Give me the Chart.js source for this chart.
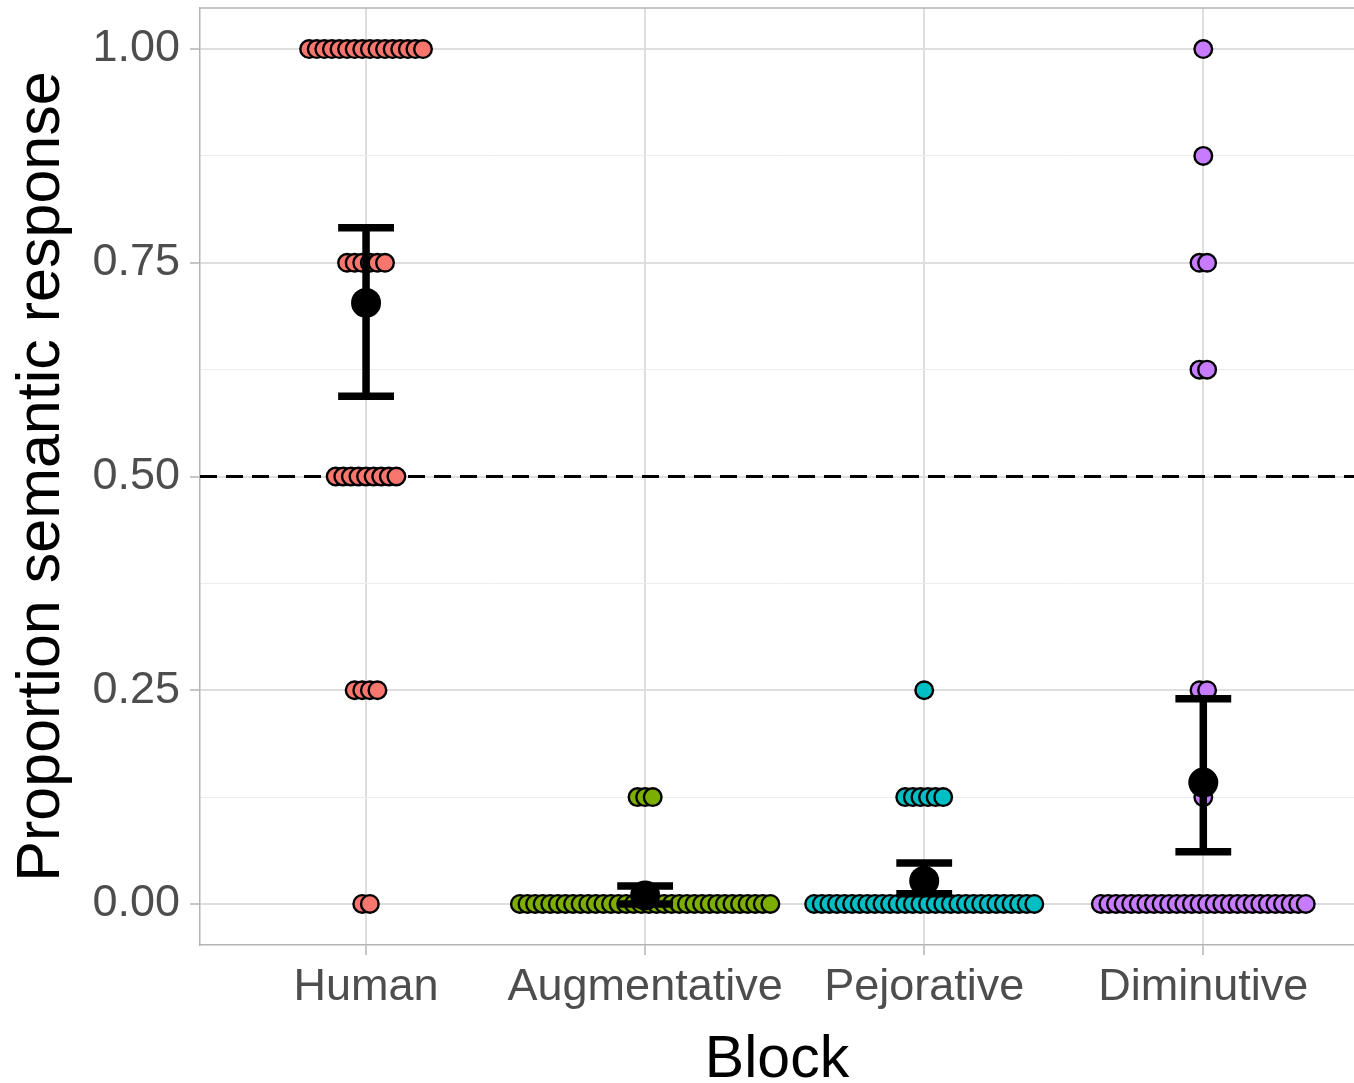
<!DOCTYPE html>
<html>
<head>
<meta charset="utf-8">
<script src="https://cdn.jsdelivr.net/npm/chart.js@4/dist/chart.umd.min.js"></script>
<style>
  html, body { margin: 0; padding: 0; background: #fff; }
  #wrap { width: 1354px; height: 1083px; }
</style>
</head>
<body>
<div id="wrap"><canvas id="chart"></canvas></div>
<script>
// categories and response levels (proportions out of 8 trials)
const blocks = ['Human', 'Augmentative', 'Pejorative', 'Diminutive'];
const levels = [0, 0.125, 0.25, 0.375, 0.5, 0.625, 0.75, 0.875, 1];

// number of participants at each level, per block
const humanCounts        = [2, 0, 4, 0, 9, 0, 6, 0, 16];
const augmentativeCounts = [34, 3, 0, 0, 0, 0, 0, 0, 0];
const pejorativeCounts   = [30, 6, 1, 0, 0, 0, 0, 0, 0];
const diminutiveCounts   = [28, 1, 2, 0, 0, 2, 2, 1, 1];

// mean and interval per block
const means  = [0.703, 0.010, 0.027, 0.142];
const ciLow  = [0.594, 0.000, 0.012, 0.061];
const ciHigh = [0.791, 0.021, 0.048, 0.240];

const yTicks = [0, 0.125, 0.25, 0.375, 0.5, 0.625, 0.75, 0.875, 1];
const chanceLevel = 0.5;

const colors = ['#F8766D', '#7CAE00', '#00BFC4', '#C77CFF'];
const allCounts = [humanCounts, augmentativeCounts, pejorativeCounts, diminutiveCounts];

// spread dots sharing a value side by side (centred dotplot)
const DOT_STEP = 0.0272;
function swarm(blockIdx, counts) {
  const pts = [];
  counts.forEach((n, li) => {
    for (let i = 0; i < n; i++) {
      pts.push({ x: blockIdx + (i - (n - 1) / 2) * DOT_STEP, y: levels[li] });
    }
  });
  return pts;
}

const FONT = '"Liberation Sans", Arial, sans-serif';

// chance line, panel top border, error bars and means
const extras = {
  id: 'extras',
  beforeDatasetsDraw(chart) {
    const { ctx, chartArea, scales } = chart;
    const y = scales.y.getPixelForValue(chanceLevel);
    ctx.save();
    ctx.strokeStyle = '#000';
    ctx.lineWidth = 3;
    ctx.setLineDash([17, 9]);
    ctx.beginPath();
    ctx.moveTo(chartArea.left, y);
    ctx.lineTo(chartArea.right, y);
    ctx.stroke();
    ctx.setLineDash([]);
    ctx.strokeStyle = '#b3b3b3';
    ctx.lineWidth = 1.5;
    ctx.beginPath();
    ctx.moveTo(chartArea.left, chartArea.top);
    ctx.lineTo(chartArea.right, chartArea.top);
    ctx.stroke();
    ctx.restore();
  },
  afterDatasetsDraw(chart) {
    const { ctx, scales } = chart;
    ctx.save();
    ctx.strokeStyle = '#000';
    ctx.fillStyle = '#000';
    ctx.lineWidth = 7.5;
    means.forEach((m, i) => {
      const cx = scales.x.getPixelForValue(i);
      const half = scales.x.getPixelForValue(i + 0.1) - cx;
      const yl = scales.y.getPixelForValue(ciLow[i]);
      const yh = scales.y.getPixelForValue(ciHigh[i]);
      ctx.beginPath();
      ctx.moveTo(cx, yl); ctx.lineTo(cx, yh);
      ctx.moveTo(cx - half, yl); ctx.lineTo(cx + half, yl);
      ctx.moveTo(cx - half, yh); ctx.lineTo(cx + half, yh);
      ctx.stroke();
      ctx.beginPath();
      ctx.arc(cx, scales.y.getPixelForValue(m), 15, 0, Math.PI * 2);
      ctx.fill();
    });
    ctx.restore();
  }
};

const datasets = blocks.map((b, i) => ({
  label: b,
  data: swarm(i, allCounts[i]),
  pointRadius: 8.8,
  pointBackgroundColor: colors[i],
  pointBorderColor: '#000',
  pointBorderWidth: 2.4,
  showLine: false
}));

new Chart(document.getElementById('chart'), {
  type: 'scatter',
  data: { datasets },
  plugins: [extras],
  options: {
    responsive: true,
    maintainAspectRatio: false,
    animation: false,
    events: [],
    layout: { autoPadding: false, padding: { top: 8, right: 0, left: 0, bottom: 0 } },
    plugins: { legend: { display: false }, tooltip: { enabled: false } },
    scales: {
      x: {
        type: 'linear',
        min: -0.595,
        max: 3.54,
        afterBuildTicks: s => { s.ticks = blocks.map((_, i) => ({ value: i })); },
        afterFit: s => { s.height = 138; s.paddingLeft = 0; s.paddingRight = 0; },
        ticks: {
          autoSkip: false,
          maxRotation: 0,
          padding: 6,
          color: '#4d4d4d',
          font: { family: FONT, size: 45 },
          callback: v => blocks[v] || ''
        },
        grid: { color: '#dedede', lineWidth: 2, tickLength: 10, tickColor: '#b3b3b3', tickWidth: 1.5 },
        border: { color: '#b3b3b3', width: 1.5 },
        title: {
          display: true,
          text: 'Block',
          color: '#000',
          font: { family: FONT, size: 59, lineHeight: 0.75 },
          padding: { top: 0, bottom: 0 }
        }
      },
      y: {
        type: 'linear',
        min: -0.048,
        max: 1.048,
        afterBuildTicks: s => { s.ticks = yTicks.map(v => ({ value: v })); },
        afterFit: s => { s.width = 200; s.paddingTop = 0; s.paddingBottom = 0; },
        ticks: {
          autoSkip: false,
          padding: 10,
          color: '#4d4d4d',
          font: { family: FONT, size: 45 },
          callback: v => (Math.abs(v * 4 - Math.round(v * 4)) < 1e-9 ? v.toFixed(2) : '')
        },
        grid: {
          color: c => (c.index % 2 ? '#ececec' : '#dedede'),
          lineWidth: c => (c.index % 2 ? 1 : 2),
          tickLength: 10,
          tickColor: c => (c.index % 2 ? 'rgba(0,0,0,0)' : '#b3b3b3'),
          tickWidth: 1.5
        },
        border: { color: '#b3b3b3', width: 1.5 },
        title: {
          display: true,
          text: 'Proportion semantic response',
          color: '#000',
          font: { family: FONT, size: 61 },
          padding: { top: 6, bottom: 0 }
        }
      }
    }
  }
});
</script>
</body>
</html>
